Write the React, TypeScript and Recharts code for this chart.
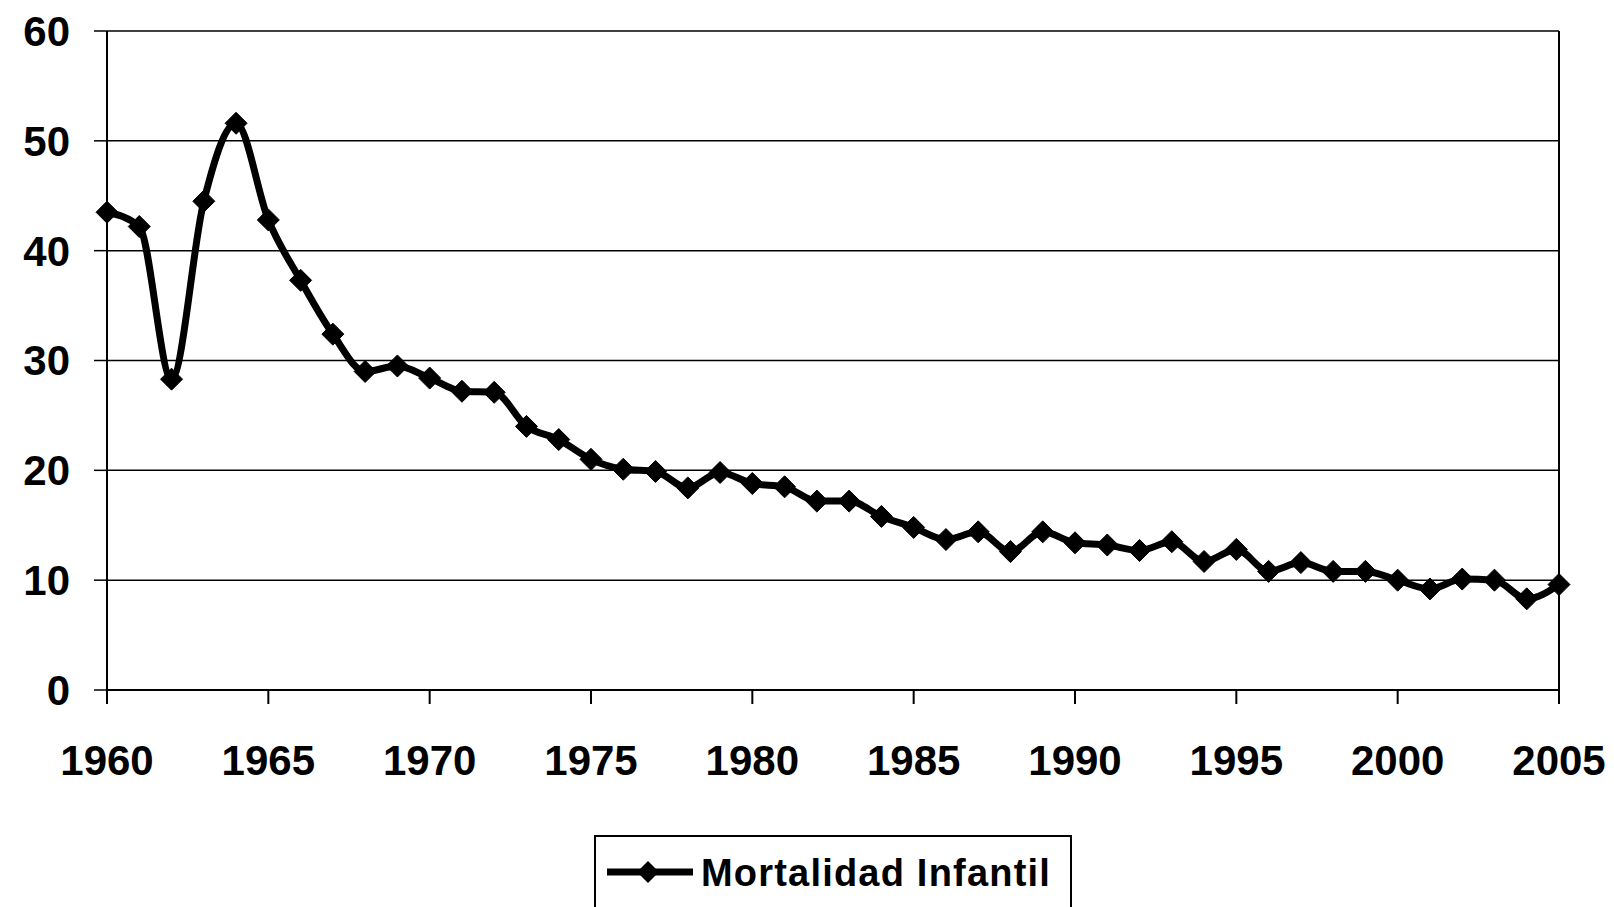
import { LineChart, Line, XAxis, YAxis, CartesianGrid, ReferenceLine } from "recharts";

const years = [
  1960, 1961, 1962, 1963, 1964, 1965, 1966, 1967, 1968, 1969,
  1970, 1971, 1972, 1973, 1974, 1975, 1976, 1977, 1978, 1979,
  1980, 1981, 1982, 1983, 1984, 1985, 1986, 1987, 1988, 1989,
  1990, 1991, 1992, 1993, 1994, 1995, 1996, 1997, 1998, 1999,
  2000, 2001, 2002, 2003, 2004, 2005,
];
const mortalidad = [
  43.5, 42.2, 28.3, 44.5, 51.6, 42.8, 37.3, 32.4, 29.0, 29.5,
  28.4, 27.2, 27.1, 24.0, 22.8, 21.0, 20.1, 19.9, 18.4, 19.8,
  18.8, 18.5, 17.2, 17.2, 15.8, 14.8, 13.7, 14.4, 12.6, 14.4,
  13.4, 13.2, 12.7, 13.5, 11.7, 12.8, 10.8, 11.6, 10.8, 10.8,
  10.0, 9.2, 10.1, 10.0, 8.3, 9.6,
];
const xTicks = [1960, 1965, 1970, 1975, 1980, 1985, 1990, 1995, 2000, 2005];
const yTicks = [0, 10, 20, 30, 40, 50, 60];
const seriesName = "Mortalidad Infantil";

const data = years.map((year, i) => ({ year, value: mortalidad[i] }));

const FONT = "'Liberation Sans', Arial, sans-serif";

function Diamond(props: any) {
  const { cx, cy } = props;
  if (cx == null || cy == null) return null;
  const r = 11;
  return (
    <polygon
      points={`${cx},${cy - r} ${cx + r},${cy} ${cx},${cy + r} ${cx - r},${cy}`}
      fill="#000"
      stroke="#000"
    />
  );
}

export default function App() {
  return (
    <div style={{ position: "absolute", left: 0, top: 0, width: 1614, height: 907, background: "#fff", overflow: "hidden" }}>
      <LineChart
        width={1614}
        height={907}
        data={data}
        margin={{ top: 31, right: 55, left: 0, bottom: 117 }}
      >
        <CartesianGrid vertical={false} stroke="#000" strokeWidth={1.5} />
        <XAxis
          dataKey="year"
          type="number"
          domain={[1960, 2005]}
          ticks={xTicks}
          height={100}
          axisLine={{ stroke: "#000", strokeWidth: 2 }}
          tickLine={{ stroke: "#000", strokeWidth: 2 }}
          tickSize={14}
          tickMargin={41}
          tick={{ fill: "#000", fontSize: 42, fontWeight: 700, fontFamily: FONT }}
        />
        <YAxis
          type="number"
          domain={[0, 60]}
          ticks={yTicks}
          width={107}
          axisLine={{ stroke: "#000", strokeWidth: 2 }}
          tickLine={{ stroke: "#000", strokeWidth: 1.5 }}
          tickSize={13}
          tickMargin={24}
          tick={{ fill: "#000", fontSize: 42, fontWeight: 700, fontFamily: FONT }}
        />
        <ReferenceLine x={2005} stroke="#000" strokeWidth={2} />
        <Line
          type="monotone"
          dataKey="value"
          name={seriesName}
          stroke="#000"
          strokeWidth={7}
          dot={<Diamond />}
          activeDot={false}
          isAnimationActive={false}
        />
      </LineChart>
      <div
        style={{
          position: "absolute",
          left: 594,
          top: 835,
          width: 478,
          height: 90,
          border: "2px solid #000",
          boxSizing: "border-box",
          fontFamily: FONT,
        }}
      >
        <svg width={100} height={40} style={{ position: "absolute", left: 11, top: 15 }}>
          <line x1={0} y1={20} x2={86} y2={20} stroke="#000" strokeWidth={7} />
          <polygon points="41,9 52,20 41,31 30,20" fill="#000" />
        </svg>
        <span
          style={{
            position: "absolute",
            left: 105,
            top: 14,
            fontSize: 38,
            lineHeight: "44px",
            fontWeight: 700,
            letterSpacing: 1.2,
            color: "#000",
            whiteSpace: "nowrap",
          }}
        >
          {seriesName}
        </span>
      </div>
    </div>
  );
}
